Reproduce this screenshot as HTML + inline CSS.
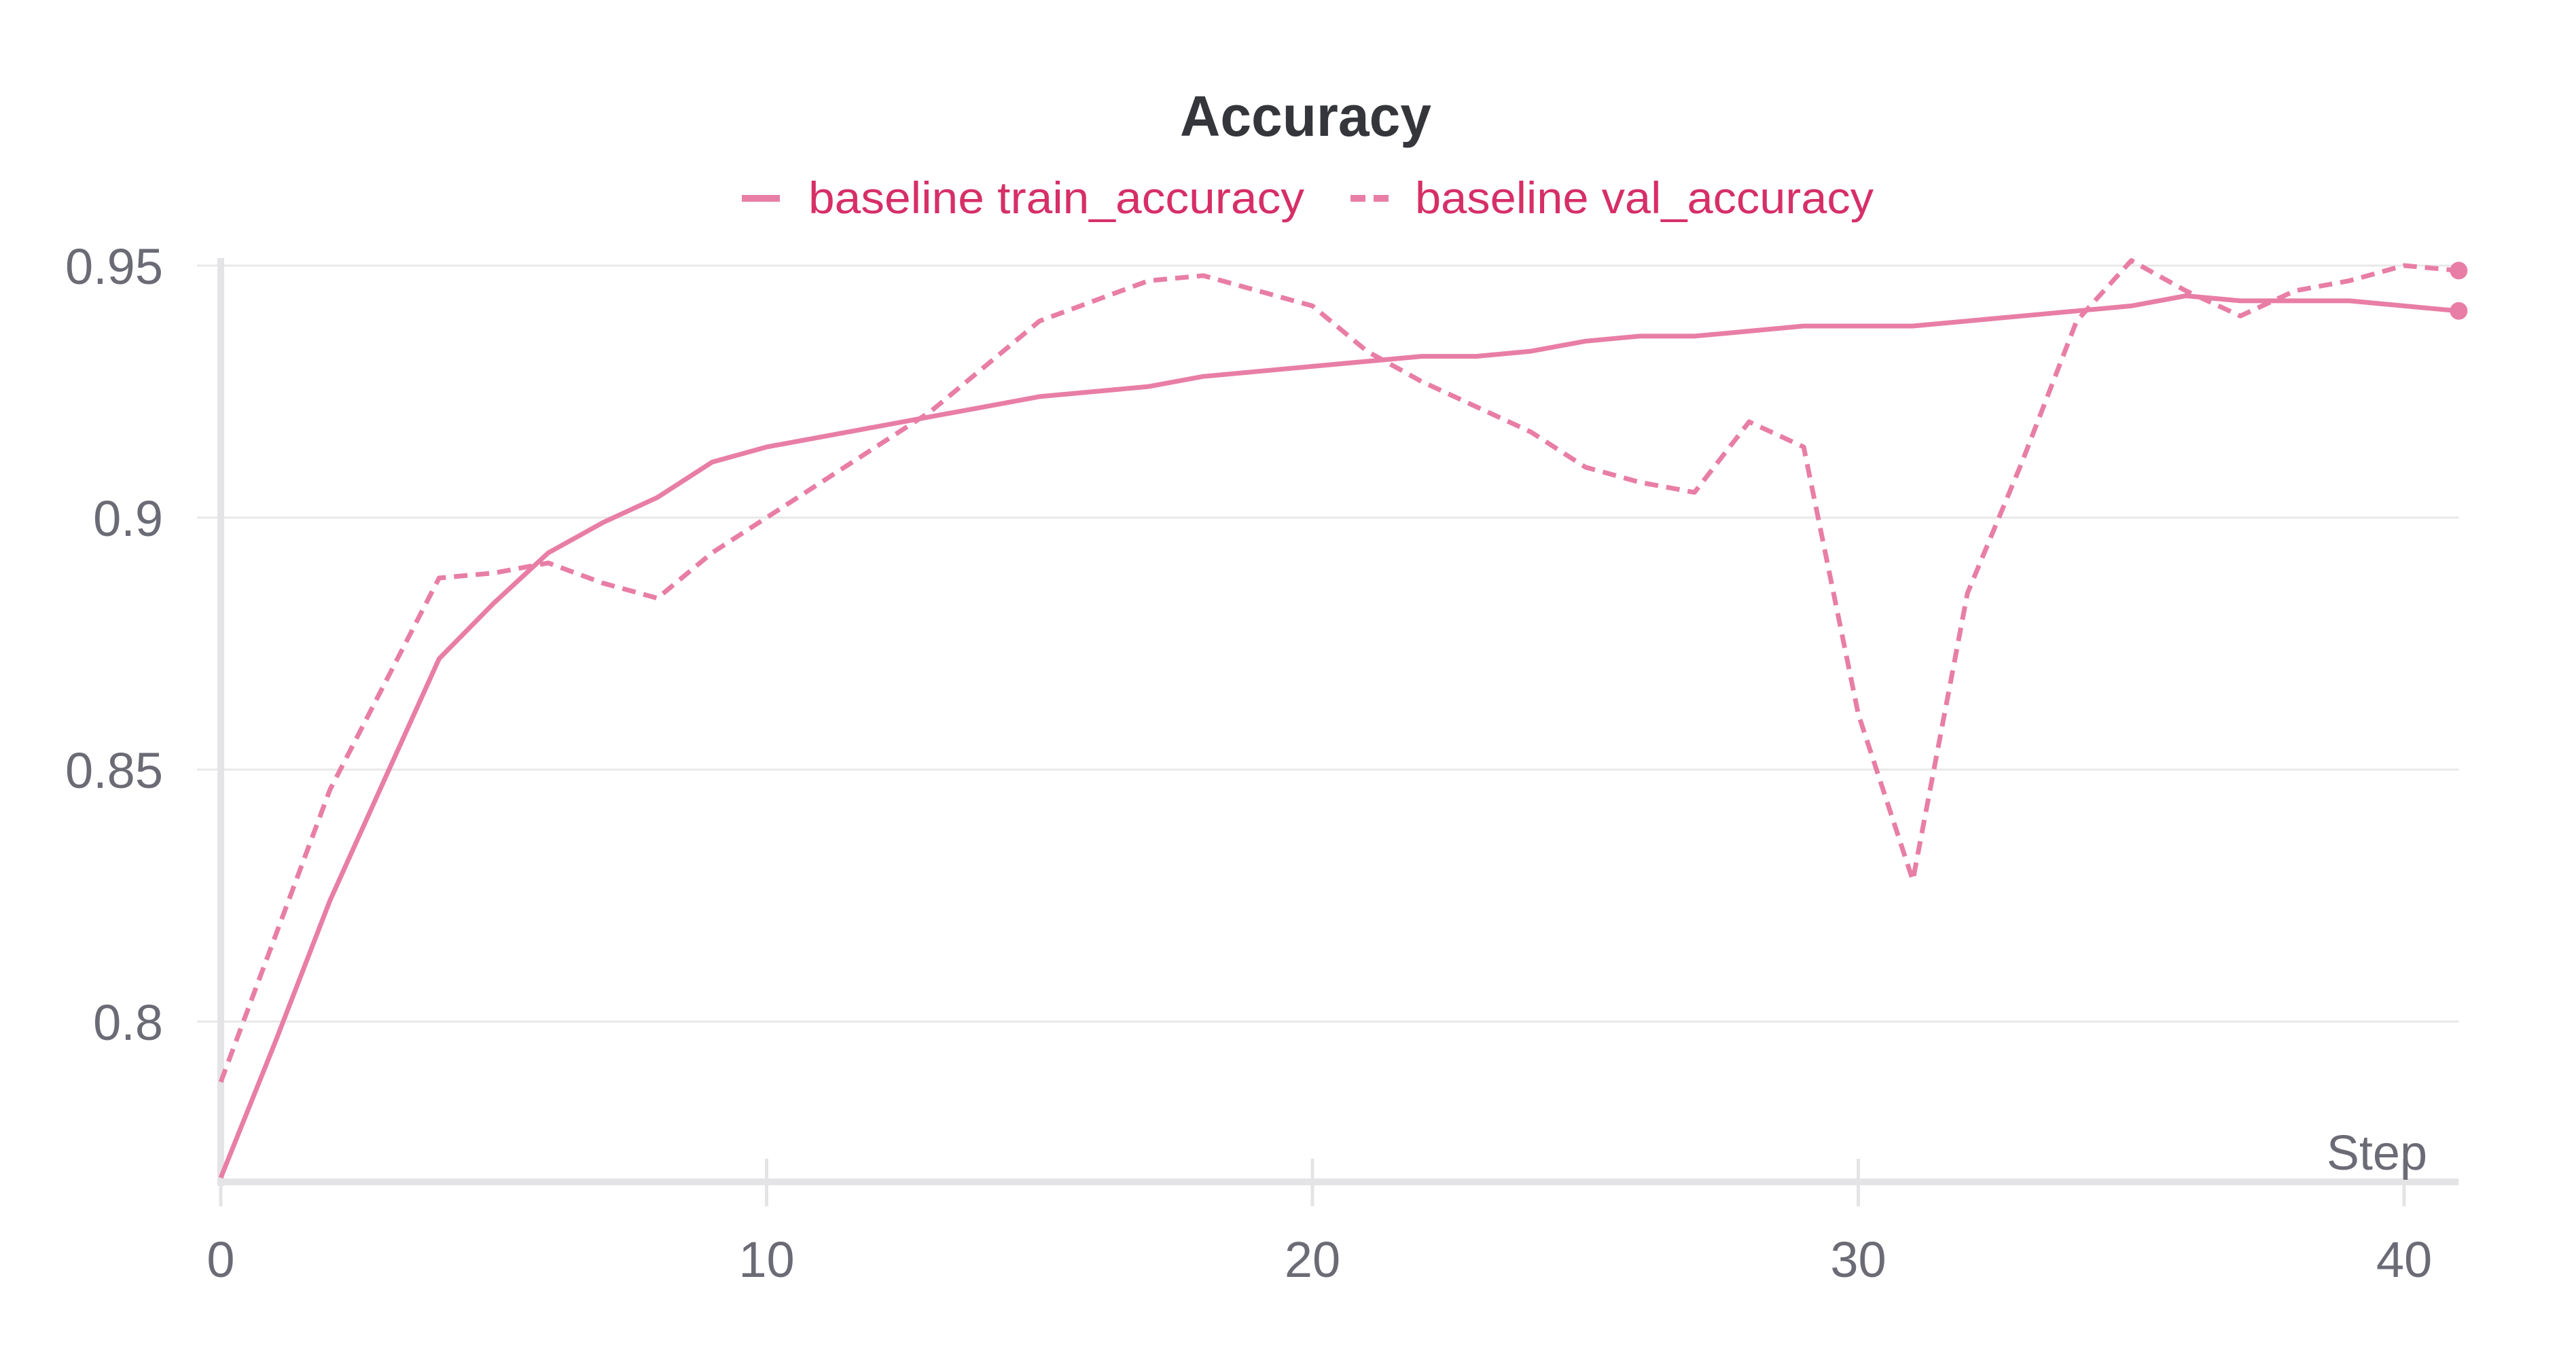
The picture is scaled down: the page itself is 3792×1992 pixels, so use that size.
<!DOCTYPE html>
<html><head><meta charset="utf-8"><style>
html,body{margin:0;padding:0;background:#fff;}
svg{display:block;font-family:"Liberation Sans",sans-serif;}
</style></head><body>
<svg id="chart" width="3792" height="1992" viewBox="0 0 3792 1992" xmlns="http://www.w3.org/2000/svg">
<rect width="3792" height="1992" fill="#fff"/>
<text x="1922" y="200" text-anchor="middle" font-size="84" font-weight="bold" fill="#35363b" textLength="370" lengthAdjust="spacingAndGlyphs">Accuracy</text>
<g>
  <g>
    <line x1="1092" y1="292" x2="1148" y2="292" stroke="#e87ea5" stroke-width="10"/>
    <text x="1190" y="314" font-size="66" fill="#d62f66" textLength="730" lengthAdjust="spacingAndGlyphs">baseline train_accuracy</text>
  </g>
  <g>
    <line x1="1988" y1="292" x2="2044" y2="292" stroke="#e87ea5" stroke-width="10" stroke-dasharray="22,12"/>
    <text x="2083" y="314" font-size="66" fill="#d62f66" textLength="675" lengthAdjust="spacingAndGlyphs">baseline val_accuracy</text>
  </g>
</g>
<g id="grid"></g>
<g id="axes"></g>
<g id="series"></g>
</svg>
<script>
const steps = Array.from({length: 42}, (_, i) => i);
const trainAcc = [0.769,0.796,0.824,0.848,0.872,0.883,0.893,0.899,0.904,0.911,0.914,0.916,0.918,0.920,0.922,0.924,0.925,0.926,0.928,0.929,0.930,0.931,0.932,0.932,0.933,0.935,0.936,0.936,0.937,0.938,0.938,0.938,0.939,0.940,0.941,0.942,0.944,0.943,0.943,0.943,0.942,0.941];
const valAcc = [0.788,0.817,0.846,0.867,0.888,0.889,0.891,0.887,0.884,0.893,0.900,0.907,0.914,0.921,0.930,0.939,0.943,0.947,0.948,0.945,0.942,0.933,0.927,0.922,0.917,0.910,0.907,0.905,0.919,0.914,0.861,0.828,0.885,0.911,0.939,0.951,0.945,0.940,0.945,0.947,0.950,0.949];
const yTicks = [0.8, 0.85, 0.9, 0.95];
const yTickLabels = ["0.8", "0.85", "0.9", "0.95"];
const xTicks = [0, 10, 20, 30, 40];

const NS = "http://www.w3.org/2000/svg";
const X0 = 325, PX_STEP = 80.35;
const Y_REF = 0.9, Y_REF_PX = 762, PX_UNIT = 7420;
const xS = v => X0 + v * PX_STEP;
const yS = v => Y_REF_PX - (v - Y_REF) * PX_UNIT;
const RIGHT = xS(41), BOTTOM = 1740, TOP = 380;

function mk(tag, attrs, parent) {
  const el = document.createElementNS(NS, tag);
  for (const k in attrs) el.setAttribute(k, attrs[k]);
  parent.appendChild(el);
  return el;
}
const grid = document.getElementById('grid');
const axes = document.getElementById('axes');
const series = document.getElementById('series');

yTicks.forEach((t, i) => {
  const g = mk('line', {x1: 290, x2: RIGHT, y1: yS(t), y2: yS(t), stroke: '#e8e8e8', 'stroke-width': 3}, grid);
  
  
  const lb = mk('text', {x: 240, y: yS(t) + 27, 'text-anchor': 'end', 'font-size': 74, fill: '#6b6b76'}, axes);
  lb.textContent = yTickLabels[i];
  
  
});
const ya = mk('line', {x1: X0, x2: X0, y1: TOP, y2: BOTTOM + 6, stroke: '#e4e4e6', 'stroke-width': 10}, axes);


const xa = mk('line', {x1: X0 - 5, x2: RIGHT, y1: BOTTOM, y2: BOTTOM, stroke: '#e4e4e6', 'stroke-width': 10}, axes);


xTicks.forEach(t => {
  const tk = mk('line', {x1: xS(t), x2: xS(t), y1: BOTTOM - 34, y2: BOTTOM + 36, stroke: '#e4e4e6', 'stroke-width': 5}, axes);
  
  
  const lb = mk('text', {x: xS(t), y: 1880, 'text-anchor': 'middle', 'font-size': 74, fill: '#6b6b76'}, axes);
  lb.textContent = String(t);
  
  
});
const st = mk('text', {x: 3573, y: 1722, 'text-anchor': 'end', 'font-size': 72, fill: '#6b6b76'}, axes);
st.textContent = 'Step';



function drawSeries(vals, dash, name) {
  const d = vals.map((v, i) => (i ? 'L' : 'M') + xS(steps[i]).toFixed(1) + ',' + yS(v).toFixed(1)).join(' ');
  const attrs = {d: d, fill: 'none', stroke: '#e87ea5', 'stroke-width': 7, 'stroke-linejoin': 'round'};
  if (dash) attrs['stroke-dasharray'] = '20,12';
  const p = mk('path', attrs, series);
  
  
  const last = vals.length - 1;
  const c = mk('circle', {cx: xS(steps[last]), cy: yS(vals[last]), r: 13, fill: '#e87ea5'}, series);
  
  
}
drawSeries(trainAcc, false, 'train-accuracy');
drawSeries(valAcc, true, 'val-accuracy');
</script>
</body></html>
